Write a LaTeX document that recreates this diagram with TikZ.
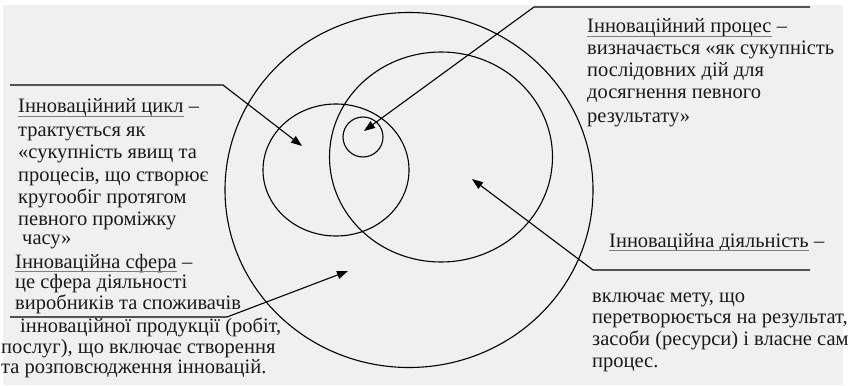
\documentclass[tikz,border=0pt]{standalone}
\usepackage{fontspec}
\setmainfont{Liberation Serif}
\usetikzlibrary{arrows.meta,shapes.geometric}
\definecolor{bggray}{HTML}{F0F0F0}
\definecolor{ulgray}{HTML}{7F7F7F}
\definecolor{txt}{HTML}{1A1A1A}
\begin{document}
\begin{tikzpicture}[x=1pt,y=-1pt,
  txtline/.style={anchor=base west,inner sep=0pt,text=txt,font=\fontsize{20.5}{24}\selectfont},
  ring/.style={ellipse,draw=black,line width=1.1pt,inner sep=0pt},
  conn/.style={draw=black,line width=1.1pt,-{Triangle[length=11pt,width=8pt]}},
  plainline/.style={draw=black,line width=1.1pt},
  ulline/.style={draw=ulgray,line width=1.3pt}]
\useasboundingbox (0,0) rectangle (850,385);
\fill[white] (0,0) rectangle (850,385);
\fill[bggray] (3,5) rectangle (843,385);

% circles
\node[ring,minimum width=368pt,minimum height=355pt] (sfera) at (409,190) {};
\node[ring,minimum width=223pt,minimum height=210pt] (diyal) at (441,157) {};
\node[ring,minimum width=146pt,minimum height=132pt] (tsykl) at (336,170) {};
\node[ring,minimum width=40pt,minimum height=40pt] (protses) at (363,137) {};

% top-left text
\node[txtline] (h1) at (18,113) {Інноваційний цикл};
\node[txtline,anchor=base west] (h1d) at ([xshift=5pt]h1.base east) {–};
\draw[ulline] ([yshift=-3.5pt]h1.base west) -- ([yshift=-3.5pt]h1.base east);
\node[txtline] (t1) at (18,136) {трактується як};
\node[txtline] (t2) at (18,158) {«сукупність явищ та};
\node[txtline] (t3) at (18,181) {процесів, що створює};
\node[txtline] (t4) at (18,203) {кругообіг протягом};
\node[txtline] (t5) at (18,225) {певного проміжку};
\node[txtline] (t6) at (22,244) {часу»};

% bottom-left text
\node[txtline] (h2) at (15,268) {Інноваційна сфера};
\node[txtline] (h2d) at ([xshift=5pt]h2.base east) {–};
\draw[ulline] ([yshift=-3.5pt]h2.base west) -- ([yshift=-3.5pt]h2.base east);
\node[txtline] (s1) at (15,288) {це сфера діяльності};
\node[txtline] (s2) at (15,309) {виробників та споживачів};
\node[txtline] (s3) at (20,332) {інноваційної продукції (робіт,};
\node[txtline] (s4) at (1,353) {послуг), що включає створення};
\node[txtline] (s5) at (1,373) {та розповсюдження інновацій.};

% top-right text
\node[txtline] (h3) at (587,33) {Інноваційний процес};
\node[txtline] (h3d) at ([xshift=5pt]h3.base east) {–};
\draw[ulline] ([yshift=-3.5pt]h3.base west) -- ([yshift=-3.5pt]h3.base east);
\node[txtline] (p1) at (587,55) {визначається «як сукупність};
\node[txtline] (p2) at (587,77) {послідовних дій для};
\node[txtline] (p3) at (587,99) {досягнення певного};
\node[txtline] (p4) at (587,122) {результату»};

% bottom-right text
\node[txtline] (h4) at (609,247) {Інноваційна діяльність};
\node[txtline] (h4d) at ([xshift=5pt]h4.base east) {–};
\draw[ulline] ([yshift=-3.5pt]h4.base west) -- ([yshift=-3.5pt]h4.base east);
\node[txtline] (d1) at (592,302) {включає мету, що};
\node[txtline] (d2) at (592,323) {перетворюється на результат,};
\node[txtline] (d3) at (592,345) {засоби (ресурси) і власне сам};
\node[txtline] (d4) at (592,367) {процес.};

% connectors
\coordinate (a1) at (10,85);
\coordinate (a2) at (223,85);
\coordinate (a3) at (302,146);
\draw[conn] (a1) -- (a2) -- (a3);

\coordinate (b1) at (810,7);
\coordinate (b2) at (534,7);
\coordinate (b3) at (364,131);
\draw[conn] (b1) -- (b2) -- (b3);

\coordinate (c1) at (810,270);
\coordinate (c2) at (593,270);
\coordinate (c3) at (472,179);
\draw[conn] (c1) -- (c2) -- (c3);

\coordinate (e1) at (10,317);
\coordinate (e2) at (227,317);
\coordinate (e3) at (348,271);
\draw[conn] (e1) -- (e2) -- (e3);
\end{tikzpicture}
\end{document}
